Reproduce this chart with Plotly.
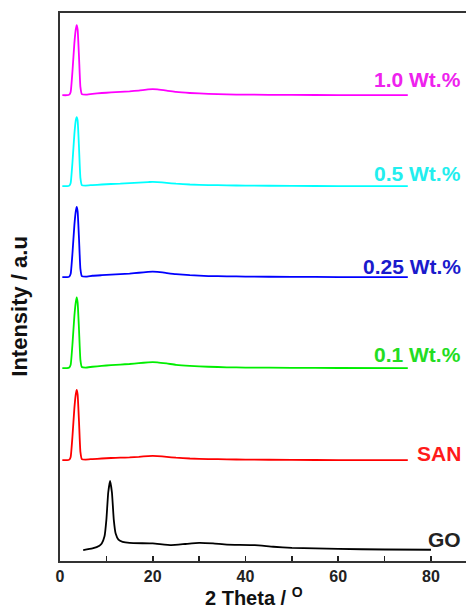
import plotly.graph_objects as go

# ---- data ----
# composite curves share a common x grid (2 Theta, degrees)
x_comp = [0.5, 1.5, 2.0, 2.3, 2.7, 3.1, 3.4, 3.6, 3.8, 4.1, 4.4, 4.7, 5.5, 7, 9, 11, 13, 15, 17, 19, 20, 21, 23, 25, 28, 32, 36, 40, 50, 60, 75]

y_san  = [0, 0, 0.1, 0.6, 4.5, 9.5, 12.0, 12.8, 12.0, 7.0, 1.5, 0.2, 0.1, 0.2, 0.3, 0.4, 0.45, 0.5, 0.6, 0.75, 0.8, 0.75, 0.6, 0.45, 0.3, 0.2, 0.15, 0.1, 0.05, 0.02, 0.0]
y_01   = [0, 0, 0.1, 0.6, 4.5, 9.5, 12.0, 12.9, 12.0, 7.0, 1.5, 0.2, 0.1, 0.25, 0.4, 0.55, 0.65, 0.75, 0.9, 1.05, 1.1, 1.05, 0.85, 0.6, 0.4, 0.25, 0.15, 0.1, 0.05, 0.02, 0.0]
y_025  = [0, 0, 0.1, 0.6, 4.5, 9.5, 12.0, 12.8, 12.0, 7.0, 1.5, 0.2, 0.1, 0.25, 0.35, 0.45, 0.55, 0.65, 0.8, 0.95, 1.0, 0.95, 0.75, 0.55, 0.35, 0.2, 0.15, 0.1, 0.05, 0.02, 0.0]
y_05   = [0, 0, 0.1, 0.6, 4.5, 9.5, 12.0, 12.6, 12.0, 7.0, 1.5, 0.2, 0.1, 0.2, 0.3, 0.4, 0.45, 0.55, 0.65, 0.75, 0.8, 0.75, 0.6, 0.45, 0.3, 0.2, 0.15, 0.1, 0.05, 0.02, 0.0]
y_10   = [0, 0, 0.1, 0.6, 4.5, 9.5, 12.0, 12.8, 12.0, 7.0, 1.5, 0.2, 0.1, 0.25, 0.4, 0.5, 0.6, 0.7, 0.85, 1.05, 1.1, 1.05, 0.85, 0.6, 0.4, 0.25, 0.15, 0.1, 0.05, 0.02, 0.0]

x_go = [5, 7, 8.5, 9.0, 9.6, 10.0, 10.4, 10.8, 11.2, 11.6, 12.0, 12.6, 13.5, 15, 20, 24, 27, 30, 33, 36, 42, 46, 50, 60, 70, 80]
y_go = [0, 0.3, 0.8, 1.2, 2.5, 5.5, 10.5, 12.6, 10.5, 5.5, 3.0, 1.9, 1.5, 1.3, 1.2, 0.9, 1.1, 1.3, 1.2, 1.0, 0.9, 0.6, 0.4, 0.2, 0.1, 0.05]

series_names = ["GO", "SAN", "0.1 Wt.%", "0.25 Wt.%", "0.5 Wt.%", "1.0 Wt.%"]
series_offsets = [2.0, 18.4, 35.2, 51.8, 68.4, 85.0]
series_colors = ["#000000", "#ff0000", "#00ee00", "#0000ff", "#00ffff", "#ff00ff"]
label_colors = ["#222222", "#ff1a1a", "#22dd22", "#1a1acc", "#22eeee", "#ee22ee"]
label_y = [3.9, 19.7, 37.6, 53.8, 70.8, 87.8]

x_ticks = [0, 20, 40, 60, 80]

xs = [x_go, x_comp, x_comp, x_comp, x_comp, x_comp]
ys = [y_go, y_san, y_01, y_025, y_05, y_10]

fig = go.Figure()
for name, xv, yv, off, col in zip(series_names, xs, ys, series_offsets, series_colors):
    fig.add_trace(go.Scatter(
        x=xv, y=[v + off for v in yv], mode="lines", name=name,
        line=dict(color=col, width=1.8, shape="spline", smoothing=0.4),
        showlegend=False, hoverinfo="skip"))

font_main = "Liberation Sans, Arial, sans-serif"
for name, ly, col in zip(series_names, label_y, label_colors):
    fig.add_annotation(x=86.8, y=ly, xref="x", yref="y", text="<b>%s</b>" % name,
                       showarrow=False, xanchor="right", yanchor="middle",
                       font=dict(family=font_main, size=21, color=col))

fig.add_annotation(xref="paper", yref="y", x=0, y=46.4, xshift=-40,
                   text="<b>Intensity / a.u</b>", textangle=-90, showarrow=False,
                   xanchor="center", yanchor="middle",
                   font=dict(family=font_main, size=22, color="#111111"))
fig.add_annotation(xref="x", yref="paper", x=41.8, y=0, yshift=-35,
                   text="<b>2 Theta / <sup>O</sup></b>", showarrow=False,
                   xanchor="center", yanchor="middle",
                   font=dict(family=font_main, size=20, color="#111111"))

fig.update_xaxes(range=[0, 87.55], tickvals=x_ticks, ticktext=[str(t) for t in x_ticks],
                 ticks="inside", ticklen=5, tickwidth=1.5, tickcolor="#222222",
                 minor=dict(dtick=10, tick0=0, ticks="inside", ticklen=5, tickwidth=1.5, tickcolor="#222222"),
                 showline=True, linecolor="#333333", linewidth=2, mirror=True,
                 showgrid=False, zeroline=False,
                 tickfont=dict(family=font_main, size=16, color="#222222", weight="bold"))
fig.update_yaxes(range=[0, 100], showticklabels=False, ticks="",
                 showline=True, linecolor="#333333", linewidth=2, mirror=False,
                 showgrid=False, zeroline=False)

fig.update_layout(width=466, height=610, margin=dict(l=60, r=0, t=13, b=49),
                  paper_bgcolor="white", plot_bgcolor="white", hovermode=False)

fig.write_html("out.html", config={"displayModeBar": False, "staticPlot": True},
               post_script="document.body.style.margin='0';document.body.style.overflow='hidden';")
